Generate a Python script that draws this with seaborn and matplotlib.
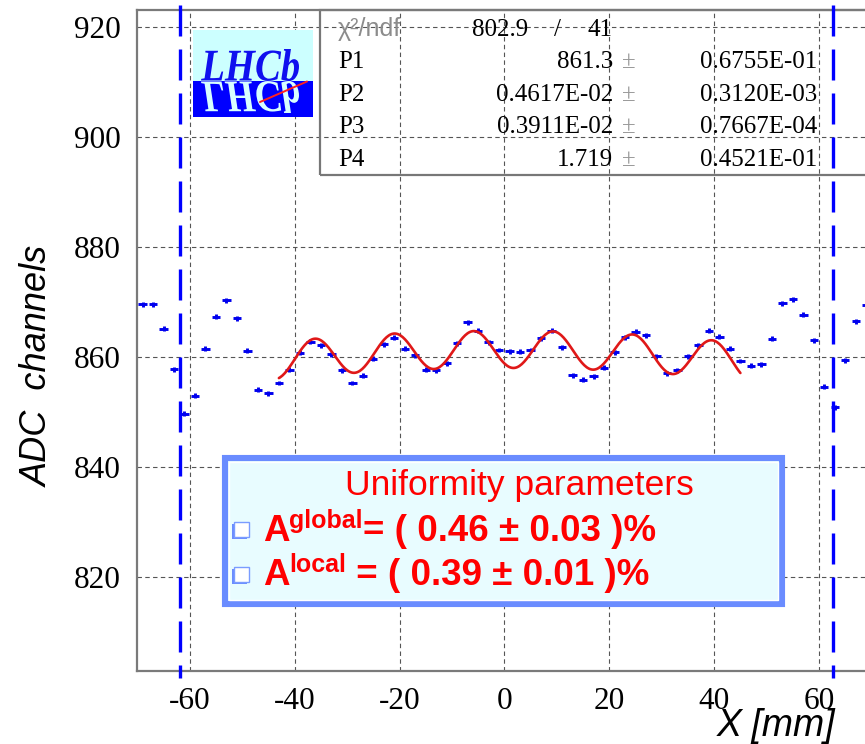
import numpy as np
import pandas as pd
import matplotlib
matplotlib.use("Agg")
import matplotlib.pyplot as plt
import seaborn as sns
from matplotlib.patches import Rectangle, PathPatch
from matplotlib.textpath import TextPath
from matplotlib.font_manager import FontProperties
from matplotlib.transforms import Affine2D
from matplotlib.ticker import MultipleLocator

# ---------------------------------------------------------------- data
# horizontal scan across the module: bin centres [mm] and mean response [ADC]
x_mm = [-69, -67, -65, -63, -61, -59, -57, -55, -53, -51,
        -49, -47, -45, -43, -41, -39, -37, -35, -33, -31,
        -29, -27, -25, -23, -21, -19, -17, -15, -13, -11,
        -9, -7, -5, -3, -1, 1, 3, 5, 7, 9,
        11, 13, 15, 17, 19, 21, 23, 25, 27, 29,
        31, 33, 35, 37, 39, 41, 43, 45, 47, 49,
        51, 53, 55, 57, 59, 61, 63, 65, 67, 69]
adc = [869.5, 869.5, 865.1, 857.7, 849.6, 852.9, 861.4, 867.2, 870.2, 867.0,
       861.1, 854.0, 853.3, 855.2, 857.6, 860.7, 862.7, 862.1, 860.4, 857.5,
       855.2, 856.5, 859.6, 862.2, 863.4, 861.4, 860.2, 857.6, 857.5, 858.8,
       862.4, 866.2, 864.7, 862.6, 861.2, 861.0, 860.9, 861.2, 863.3, 864.7,
       861.7, 856.6, 855.8, 856.4, 858.0, 860.8, 863.5, 864.5, 863.9, 860.1,
       857.0, 857.5, 860.1, 862.1, 864.7, 863.6, 861.4, 859.2, 858.3, 858.6,
       863.2, 869.7, 870.4, 867.6, 863.0, 854.5, 850.8, 859.3, 866.4, 869.4]
bin_half = 0.8      # mm
adc_err = 0.45      # ADC

# fit: P1 * (1 - P2*(x/half)^2) * (1 - P3*cos(2*pi*(x - P4)/pitch))
chi2, ndf = 802.9, 41
par_names = ["P1", "P2", "P3", "P4"]
par_vals = [861.3, 0.4617e-2, 0.3911e-2, 1.719]
par_errs = [0.6755e-1, 0.3120e-3, 0.7667e-4, 0.4521e-1]
par_text = ["861.3", "0.4617E-02", "0.3911E-02", "1.719"]
err_text = ["0.6755E-01", "0.3120E-03", "0.7667E-04", "0.4521E-01"]
fit_range = (-43.0, 45.0)
module_half = 60.6   # mm
fibre_pitch = 15.15  # mm

module_edges = [-61.8, 62.7]
xticks = [-60, -40, -20, 0, 20, 40, 60]
yticks = [820, 840, 860, 880, 900, 920]

a_global, a_global_err = "0.46", "0.03"
a_local, a_local_err = "0.39", "0.01"

# ---------------------------------------------------------------- figure
W, H = 865, 744
sns.set_style("white")
plt.rcParams["font.family"] = ["Liberation Serif", "DejaVu Sans"]
plt.rcParams["axes.unicode_minus"] = False
plt.rcParams["text.color"] = "black"
plt.rcParams["axes.labelcolor"] = "black"

fig = plt.figure(figsize=(W / 100, H / 100), dpi=100)


def fx(x):
    return x / W


def fy(y):
    return 1 - y / H


ax = fig.add_axes([fx(137.3), fy(670.7), (871.5 - 137.3) / W, (670.7 - 10) / H])
ax.set_xlim(-70, 70)
ax.set_ylim(802.9, 923.0)

ax.grid(True, which="major", ls=(0, (4, 3)), color="#555555", lw=0.8)
ax.set_axisbelow(True)
for side, sp in ax.spines.items():
    sp.set_color("#7a7a7a")
    sp.set_linewidth(1.6)

ax.set_xticks(xticks)
ax.set_yticks(yticks)
ax.xaxis.set_minor_locator(MultipleLocator(5))
ax.yaxis.set_minor_locator(MultipleLocator(10))
ax.tick_params(which="major", direction="in", length=8, width=1.0, color="#666666",
               labelsize=22.5, labelcolor="black", pad=12)
ax.tick_params(which="minor", direction="in", length=4.5, width=0.9, color="#888888")

# measured points
ax.errorbar(x_mm, adc, xerr=bin_half, yerr=adc_err, fmt="none",
            ecolor="#0000ee", elinewidth=2.1, capsize=0, zorder=3)

# fit curve
x_fit = np.linspace(fit_range[0], fit_range[1], 400)
P1, P2, P3, P4 = par_vals
y_fit = P1 * (1 - P2 * (x_fit / module_half) ** 2) * \
    (1 - P3 * np.cos(2 * np.pi * (x_fit - P4) / fibre_pitch))
fit_df = pd.DataFrame({"x": x_fit, "adc": y_fit})
sns.lineplot(data=fit_df, x="x", y="adc", ax=ax, color="#e01818", lw=1.9,
             sort=False, zorder=4)
ax.set_xlabel("")
ax.set_ylabel("")

# module boundaries
for xe in module_edges:
    ax.plot([xe, xe], [923.9, 801.6], color="#0000ff", lw=2.4,
            dashes=(9.3, 3.9), clip_on=False, zorder=6)

# ---------------------------------------------------------------- stats box
ax.add_patch(Rectangle((fx(320), fy(175)), (880 - 320) / W, 165 / H,
                       transform=fig.transFigure, fill=False,
                       ec="#777777", lw=1.6, clip_on=False, zorder=2))
stat_kw = dict(transform=fig.transFigure, fontsize=18, va="baseline",
               family="Liberation Serif", zorder=5)
ax.text(fx(338), fy(36), "\u03c7\u00b2/ndf", color="#8c8c8c",
        family="Liberation Sans", fontsize=18, transform=fig.transFigure,
        va="baseline", zorder=5)
ax.text(fx(528), fy(36), f"{chi2}", ha="right", color="black", **stat_kw)
ax.text(fx(557), fy(36), "/", ha="center", color="black", **stat_kw)
ax.text(fx(588), fy(36), f"{ndf}", ha="left", color="black", **stat_kw)
baselines = [68.5, 101, 133, 166]
for name, v, e, yb in zip(par_names, par_text, err_text, baselines):
    ax.text(fx(338), fy(yb), name, ha="left", color="black", **stat_kw)
    ax.text(fx(613), fy(yb), v, ha="right", color="black", **stat_kw)
    ax.text(fx(622), fy(yb), "\u00b1", ha="left", color="#9a9a9a", **stat_kw)
    ax.text(fx(700), fy(yb), e, ha="left", color="black", **stat_kw)

# ---------------------------------------------------------------- logo
lax = fig.add_axes([fx(193), fy(117), 120 / W, 87 / H])
lax.set_xlim(0, 120)
lax.set_ylim(87, 0)
lax.axis("off")
lax.add_patch(Rectangle((0, 0), 120, 50.7, color="#ccffff", lw=0))
lax.add_patch(Rectangle((0, 50.7), 120, 36.3, color="#0000ff", lw=0))
fp = FontProperties(family="Liberation Serif", style="italic", weight="bold")
tp = TextPath((0, 0), "LHCb", size=1, prop=fp)
bb = tp.get_extents()
sx = 98 / bb.width
sy = 32 / bb.height
upright = Affine2D().translate(-bb.x0, 0).scale(sx, -sy).translate(8, 50.5)
mirror = Affine2D().translate(-bb.x0, 0).scale(sx, sy).translate(8, 51.5)
lax.add_patch(PathPatch(upright.transform_path(tp), color="#1010ee", lw=0))
lax.add_patch(PathPatch(mirror.transform_path(tp), color="#d8ffff", lw=0))
lax.plot([67, 114], [72, 51.5], color="#ff2020", lw=1.4)

# ---------------------------------------------------------------- summary box
fig.add_artist(Rectangle((fx(224.5), fy(604)), (781.5 - 224.5) / W, (604 - 457.5) / H,
                         transform=fig.transFigure, fc="#e8fcff",
                         ec="#6a8cff", lw=4.4))
fig.add_artist(Rectangle((fx(228.5), fy(600)), (777.5 - 228.5) / W, (600 - 461.5) / H,
                         transform=fig.transFigure, fill=False,
                         ec="white", lw=1.0))
fig.text(fx(519), fy(495), "Uniformity parameters", ha="center", va="baseline",
         color="#ff0000", fontsize=25.5, family="Liberation Sans")

renderer = fig.canvas.get_renderer()


def flow_line(pieces, x0, y0):
    x = x0
    for s, size, dy in pieces:
        t = fig.text(fx(x), fy(y0 - dy), s, fontsize=size, weight="bold",
                     color="#ff0000", family="Liberation Sans",
                     ha="left", va="baseline")
        x += t.get_window_extent(renderer=renderer).width


def checkbox(x0, y0, s=15):
    fig.add_artist(Rectangle((fx(x0 - 2), fy(y0 + s + 2)), s / W, s / H,
                             transform=fig.transFigure, fc="#6a8cff", lw=0))
    fig.add_artist(Rectangle((fx(x0), fy(y0 + s)), s / W, s / H,
                             transform=fig.transFigure, fc="white",
                             ec="#7a9cff", lw=1.0))


checkbox(234, 522)
checkbox(234, 567)
flow_line([("A", 26.5, 0), ("global", 18, 13),
           (f"= ( {a_global} \u00b1 {a_global_err} )%", 26.5, 0)], 263, 541)
flow_line([("A", 26.5, 0), ("local", 18, 13),
           (f" = ( {a_local} \u00b1 {a_local_err} )%", 26.5, 0)], 263, 585)

# ---------------------------------------------------------------- axis titles
fig.text(fx(38), fy(366), "ADC  channels", rotation=90, ha="center", va="center",
         fontsize=26, style="italic", family="Liberation Sans")
fig.text(fx(835), fy(736), "X [mm]", ha="right", va="baseline",
         fontsize=27, style="italic", family="Liberation Sans")

fig.savefig("out.png", dpi=100)
